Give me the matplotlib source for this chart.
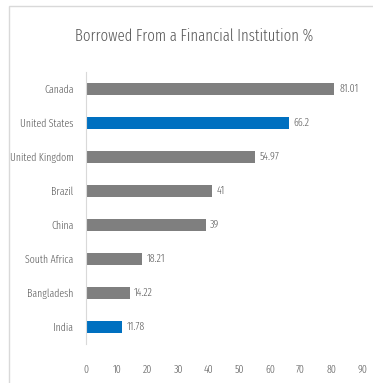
import matplotlib.pyplot as plt
from matplotlib.patches import Rectangle
from matplotlib import font_manager

countries = ["Canada", "United States", "United Kingdom", "Brazil",
             "China", "South Africa", "Bangladesh", "India"]
values = [81.01, 66.2, 54.97, 41, 39, 18.21, 14.22, 11.78]
labels = ["81.01", "66.2", "54.97", "41", "39", "18.21", "14.22", "11.78"]
highlight = ["United States", "India"]
xticks = [0, 10, 20, 30, 40, 50, 60, 70, 80, 90]

# thin narrow sans: take a condensed light/regular file if one is installed
cands = [f for f in font_manager.fontManager.ttflist
         if f.style == "normal" and ("Condensed" in f.name or "Narrow" in f.name)]
order = ["Fira Sans Extra Condensed", "Barlow Condensed", "Open Sans Condensed",
         "Roboto Condensed", "Fira Sans Condensed", "Encode Sans Condensed",
         "Barlow Semi Condensed", "Cabin Condensed", "Archivo Narrow"]
pick = None
for name in order:
    for w in (300, 400):
        hit = [f for f in cands if f.name == name and f.weight == w]
        if hit:
            pick = hit[0]
            break
    if pick:
        break
if pick:
    font_manager.fontManager.addfont(pick.fname)
    plt.rcParams["font.family"] = [pick.name, "DejaVu Sans"]
    plt.rcParams["font.weight"] = pick.weight

txt = "#595959"
fs = 7.8

fig = plt.figure(figsize=(3.73, 3.83), dpi=100)
fig.patches.append(Rectangle((9 / 373, -0.05), 1.1, 1 - 6 / 383 + 0.05,
                             transform=fig.transFigure, fill=False,
                             edgecolor="#d9d9d9", linewidth=1))
ax = fig.add_axes([86 / 373, 1 - 344 / 383, 276 / 373, 272 / 383])

pos = list(range(len(countries)))[::-1]
colors = ["#0070c0" if c in highlight else "#7f7f7f" for c in countries]
ax.barh(pos, values, height=0.36, color=colors)
for p, v, l in zip(pos, values, labels):
    ax.text(v + 1.5, p, l, va="center", ha="left", fontsize=fs, color=txt)

ax.set_xlim(0, 90)
ax.set_ylim(-0.5, len(countries) - 0.5)
ax.set_yticks(pos)
ax.set_yticklabels(countries, fontsize=fs, color=txt)
ax.set_xticks(xticks)
ax.set_xticklabels([str(t) for t in xticks], fontsize=fs, color=txt)
ax.tick_params(length=0)
ax.tick_params(axis="y", pad=9)
ax.tick_params(axis="x", pad=15)
for s in ["top", "right", "bottom"]:
    ax.spines[s].set_visible(False)
ax.spines["left"].set_color("#d9d9d9")

fig.text(0.52, 1 - 36 / 383, "Borrowed From a Financial Institution %",
         ha="center", va="center", fontsize=11.5, color=txt)

fig.savefig("out.png", dpi=100)
